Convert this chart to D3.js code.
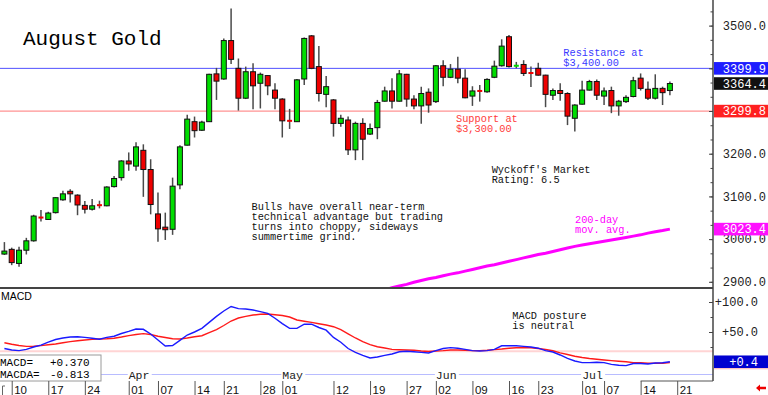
<!DOCTYPE html>
<html>
<head>
<meta charset="utf-8">
<script src="https://cdn.jsdelivr.net/npm/d3@7"></script>
<style>
  body { margin: 0; background: #fff; }
  svg { display: block; font-family: "Liberation Mono", monospace; }
</style>
</head>
<body>
<div class="canvas"></div>
<script>
// trading days Mar 7 .. Jul 21 (last one only carries a tick label)
const holidays = ['2025-04-18', '2025-05-26', '2025-06-19', '2025-07-04'];
const parse = d3.timeParse('%Y-%m-%d');
const fmt = d3.timeFormat('%Y-%m-%d');
const days = d3.timeDay.range(parse('2025-03-07'), parse('2025-07-22'))
  .filter(d => d.getDay() % 6 !== 0 && !holidays.includes(fmt(d)))
  .map(fmt);

// daily OHLC, Mar 7 .. Jul 18
const opens = [2965, 2976, 2943, 2974, 2996, 3052, 3046, 3062, 3092, 3112, 3103, 3079, 3070, 3080, 3078, 3123, 3144,
  3183, 3171, 3208, 3163, 3059, 3028, 3023, 3127, 3220, 3275, 3255, 3275, 3387, 3375, 3465, 3400, 3330, 3392, 3365, 3383, 3349,
  3328, 3278, 3275, 3375, 3476, 3404, 3339, 3326, 3271, 3279, 3209, 3271, 3246, 3261, 3323, 3347, 3323, 3386, 3328, 3312, 3344,
  3322, 3406, 3379, 3398, 3377, 3335, 3348, 3345, 3379, 3406, 3474, 3405, 3409, 3390, 3400, 3384, 3337, 3348, 3341, 3283,
  3316, 3349, 3369, 3335, 3348, 3312, 3322, 3334, 3377, 3351, 3330, 3353, 3348];
const highs = [2993, 2980, 2982, 3003, 3057, 3068, 3064, 3098, 3113, 3117, 3105, 3089, 3094, 3090, 3124, 3148, 3185,
  3203, 3227, 3222, 3187, 3109, 3062, 3144, 3220, 3291, 3287, 3277, 3387, 3401, 3470, 3540, 3423, 3404, 3412, 3390, 3384, 3365,
  3330, 3305, 3375, 3472, 3478, 3452, 3382, 3328, 3291, 3287, 3275, 3283, 3271, 3326, 3357, 3377, 3396, 3387, 3337, 3357, 3353,
  3408, 3419, 3410, 3427, 3398, 3358, 3361, 3377, 3418, 3468, 3478, 3415, 3419, 3404, 3413, 3385, 3353, 3365, 3344, 3316,
  3371, 3373, 3374, 3355, 3357, 3326, 3337, 3380, 3388, 3369, 3386, 3357, 3369];
const lows = [2963, 2939, 2935, 2964, 2994, 3041, 3045, 3060, 3090, 3086, 3056, 3060, 3067, 3072, 3077, 3121, 3137,
  3160, 3160, 3099, 3058, 2994, 2998, 3010, 3117, 3219, 3238, 3253, 3274, 3326, 3373, 3410, 3301, 3328, 3304, 3306, 3337, 3304,
  3238, 3258, 3274, 3361, 3398, 3322, 3309, 3240, 3263, 3197, 3185, 3185, 3244, 3234, 3322, 3306, 3322, 3310, 3304, 3270, 3296,
  3319, 3358, 3377, 3365, 3330, 3312, 3322, 3343, 3377, 3404, 3402, 3400, 3382, 3356, 3383, 3309, 3326, 3324, 3267, 3252,
  3315, 3348, 3326, 3314, 3295, 3289, 3319, 3332, 3348, 3326, 3327, 3314, 3337];
const closes = [2972, 2945, 2974, 2996, 3054, 3049, 3061, 3097, 3106, 3106, 3080, 3070, 3078, 3079, 3122, 3142, 3183,
  3176, 3216, 3163, 3081, 3024, 3022, 3124, 3216, 3281, 3254, 3274, 3386, 3370, 3465, 3421, 3330, 3392, 3359, 3386, 3359, 3330,
  3277, 3276, 3373, 3470, 3400, 3341, 3357, 3271, 3283, 3209, 3271, 3234, 3259, 3320, 3347, 3323, 3387, 3328, 3312, 3341, 3314,
  3406, 3379, 3398, 3377, 3331, 3347, 3346, 3374, 3405, 3452, 3404, 3407, 3388, 3388, 3384, 3339, 3348, 3341, 3288, 3314,
  3349, 3369, 3337, 3347, 3312, 3323, 3332, 3371, 3353, 3330, 3353, 3343, 3364.4];

// 200-day moving average, May 20 .. Jul 18
const maValues = [2877, 2881, 2886, 2890, 2894, 2899, 2903, 2907, 2910, 2914, 2918, 2921, 2925, 2929, 2933, 2937, 2940,
  2944, 2948, 2952, 2956, 2960, 2964, 2967, 2971, 2975, 2979, 2983, 2986, 2989, 2992, 2995, 2998, 3001, 3004, 3007, 3010,
  3014, 3017, 3020, 3023.4];

// MACD and its average, Mar 7 .. Jul 18
const macdLine = [22.5, 20, 19, 21, 25, 28, 33, 37.5, 40, 41.7, 42, 41, 39.5, 38, 41, 43, 47.5, 51, 55, 54.5,
  46.7, 36.7, 26.7, 27.5, 36, 45, 50, 56, 66, 76, 85, 92.5, 89, 88.3, 86.7, 84, 81, 73, 64, 56,
  56, 63, 63, 57.5, 53, 41, 33, 22.5, 16, 11, 6.7, 8.3, 11, 13.3, 17, 18, 17, 16, 15, 19,
  22.5, 24, 23, 21, 19, 18.3, 19, 21, 27, 27, 27, 26, 25, 23, 19, 16.7, 11.7, 6, 1.7, -1,
  -1, -0.5, -1, -4, -5.5, -6, -2.5, -2.5, -3.3, -1.7, -1.3, 0.37];
const macdAvg = [32, 29.5, 27.5, 26, 26.3, 27.3, 28.7, 30, 32, 34, 35.5, 36.7, 37.7, 38.3, 38.8, 39.7, 41.7, 44, 45.8, 47.3,
  45.8, 43, 40.8, 38.8, 38.3, 40, 42, 43.8, 49, 54, 60.8, 68.3, 73.3, 76, 78.3, 79.5, 80, 78.8, 77.5, 75,
  70, 68, 66, 63.8, 61.7, 58.8, 54, 47, 40, 34, 29, 25.5, 23.3, 21, 20.5, 20, 19.5, 18.3, 17.5, 18.3,
  19, 20, 20, 19.5, 19, 19, 19.7, 20.7, 21.7, 23, 23.8, 23.8, 23.8, 22.5, 20.8, 18.7, 15.3, 12.5, 9.5, 7.5,
  5.8, 4.5, 3.3, 2.3, 1.3, 0.3, -1, -1.3, -2, -2.2, -2, -0.81];
const macdGuide = 18;

// levels and labels
const resistance = 3399.9, support = 3299.8;
const priceTicks = [2900, 3000, 3100, 3200, 3300, 3400, 3500];
const macdTicks = [50, 100];
const dayTicks = ['2025-03-10', '2025-03-17', '2025-03-24', '2025-04-01', '2025-04-07', '2025-04-14', '2025-04-21',
  '2025-04-28', '2025-05-01', '2025-05-12', '2025-05-19', '2025-05-27', '2025-06-02', '2025-06-09', '2025-06-16',
  '2025-06-23', '2025-07-01', '2025-07-07', '2025-07-14', '2025-07-21'];
const monthNames = ['Apr', 'May', 'Jun', 'Jul'];
const monthStarts = ['2025-04-01', '2025-05-01', '2025-06-02', '2025-07-01'];

const W = 768, H = 395, axisX = 713, mainBottom = 288, macdBottom = 381;

const svg = d3.select('.canvas')
  .append('svg')
    .attr('width', W)
    .attr('height', H);

const x = d3.scalePoint().domain(days).range([4.4, 677.2]);
const y = d3.scaleLinear().domain([2885.5, 3560]).range([mainBottom, 0]);
const yM = d3.scaleLinear().domain([0, 100]).range([362, 302]);

const defs = svg.append('defs');
defs.append('clipPath').attr('id', 'clipMain')
  .append('rect').attr('x', 0).attr('y', 0).attr('width', axisX).attr('height', mainBottom);
defs.append('clipPath').attr('id', 'clipMacd')
  .append('rect').attr('x', 0).attr('y', mainBottom).attr('width', axisX).attr('height', macdBottom - mainBottom);

// ---- main price panel ----
const main = svg.append('g').attr('clip-path', 'url(#clipMain)');

main.append('line')
  .attr('x1', 0).attr('x2', axisX)
  .attr('y1', y(resistance)).attr('y2', y(resistance))
  .attr('stroke', '#5050ff').attr('stroke-width', 1);
main.append('line')
  .attr('x1', 0).attr('x2', axisX)
  .attr('y1', y(support)).attr('y2', y(support))
  .attr('stroke', '#ff7878').attr('stroke-width', 1);

// 200-day average
const maDays = days.slice(days.length - 1 - maValues.length, days.length - 1);
main.append('path')
  .datum(maValues)
  .attr('fill', 'none')
  .attr('stroke', '#ff00ff')
  .attr('stroke-width', 3)
  .attr('d', d3.line().x((d, i) => x(maDays[i])).y(d => y(d)));

// candles
const candles = opens.map((o, i) => ({ day: days[i], o, h: highs[i], l: lows[i], c: closes[i] }));
const cg = main.selectAll('g.candle')
  .data(candles)
  .enter()
  .append('g')
    .attr('class', 'candle');

cg.append('line')
  .attr('x1', d => x(d.day)).attr('x2', d => x(d.day))
  .attr('y1', d => y(d.h)).attr('y2', d => y(d.l))
  .attr('stroke', '#4a4a4a')
  .attr('stroke-width', 1.5);

cg.append('rect')
  .attr('x', d => x(d.day) - 2.5)
  .attr('width', 5)
  .attr('y', d => {
    const top = y(Math.max(d.o, d.c)), h = y(Math.min(d.o, d.c)) - top;
    return h < 2 ? top - (2 - h) / 2 : top;
  })
  .attr('height', d => Math.max(2, y(Math.min(d.o, d.c)) - y(Math.max(d.o, d.c))))
  .attr('fill', d => d.c >= d.o ? '#00dd00' : '#ee0000')
  .attr('stroke', d => (y(Math.min(d.o, d.c)) - y(Math.max(d.o, d.c))) < 2 ? 'none' : '#111')
  .attr('stroke-width', 1);

// ---- MACD panel ----
const macd = svg.append('g').attr('clip-path', 'url(#clipMacd)');

macd.append('line')
  .attr('x1', 0).attr('x2', axisX)
  .attr('y1', yM(macdGuide)).attr('y2', yM(macdGuide))
  .attr('stroke', '#ffd4d4').attr('stroke-width', 2);

macd.append('line')
  .attr('x1', 100).attr('x2', axisX)
  .attr('y1', 374.5).attr('y2', 374.5)
  .attr('stroke', '#b8bcff').attr('stroke-width', 1);

const macdDays = days.slice(0, macdLine.length);
macd.append('path')
  .datum(macdAvg)
  .attr('fill', 'none')
  .attr('stroke', '#ff1a1a')
  .attr('stroke-width', 1.4)
  .attr('d', d3.line().x((d, i) => x(macdDays[i])).y(d => yM(d)));
macd.append('path')
  .datum(macdLine)
  .attr('fill', 'none')
  .attr('stroke', '#1a1aff')
  .attr('stroke-width', 1.4)
  .attr('d', d3.line().x((d, i) => x(macdDays[i])).y(d => yM(d)));

// month labels on the light blue strip
const months = svg.append('g');
monthNames.forEach((m, i) => {
  const mx = x(monthStarts[i]);
  months.append('rect')
    .attr('x', mx - 1).attr('y', 368).attr('width', 24).attr('height', 12)
    .attr('fill', '#fff');
  months.append('text')
    .attr('x', mx).attr('y', 379)
    .attr('font-size', 11.5)
    .attr('fill', '#222')
    .text(m);
});

// panel frames
svg.append('line')
  .attr('x1', 0).attr('x2', axisX)
  .attr('y1', mainBottom).attr('y2', mainBottom)
  .attr('stroke', '#444').attr('stroke-width', 2);
svg.append('line')
  .attr('x1', axisX).attr('x2', axisX)
  .attr('y1', 0).attr('y2', macdBottom)
  .attr('stroke', '#444').attr('stroke-width', 1.5);
svg.append('line')
  .attr('x1', x('2025-07-14')).attr('x2', axisX)
  .attr('y1', macdBottom).attr('y2', macdBottom)
  .attr('stroke', '#555').attr('stroke-width', 1);

// MACD label and readout box
svg.append('text')
  .attr('x', 1).attr('y', 300)
  .attr('font-family', '"Liberation Sans", Arial, sans-serif')
  .attr('font-size', 10.5)
  .text('MACD');

const box = svg.append('g');
box.append('rect')
  .attr('x', -1).attr('y', 355).attr('width', 102).attr('height', 26)
  .attr('fill', '#fff').attr('stroke', '#9a9a9a');
[['MACD=', '+0.370', 366], ['MACDA=', '-0.813', 378]].forEach(r => {
  box.append('text').attr('x', 0).attr('y', r[2]).attr('font-size', 11).text(r[0]);
  box.append('text').attr('x', 50).attr('y', r[2]).attr('font-size', 11).text(r[1]);
});

// ---- right axes ----
const priceAxis = svg.append('g')
  .attr('transform', `translate(${axisX},0)`)
  .call(d3.axisRight(y).tickValues(priceTicks).tickSize(-4).tickPadding(10).tickFormat(d3.format('.1f')));
const minorAxis = svg.append('g')
  .attr('transform', `translate(${axisX},0)`)
  .call(d3.axisRight(y).tickValues(d3.range(2900, 3560, 100 / 3)).tickSize(-2.5).tickFormat(''));
const macdAxis = svg.append('g')
  .attr('transform', `translate(${axisX},0)`)
  .call(d3.axisRight(yM).tickValues(macdTicks).tickSize(-4).tickPadding(10).tickFormat(d => '+' + d.toFixed(1)));
const macdMinor = svg.append('g')
  .attr('transform', `translate(${axisX},0)`)
  .call(d3.axisRight(yM).tickValues([25, 75, 125]).tickSize(-2.5).tickFormat(''));

[priceAxis, minorAxis, macdAxis, macdMinor].forEach(g => {
  g.select('.domain').remove();
  g.selectAll('line').attr('stroke', '#444');
  g.selectAll('text')
    .attr('font-family', '"Liberation Mono", monospace')
    .attr('font-size', 12)
    .attr('fill', '#222');
});
macdAxis.selectAll('text').attr('text-anchor', 'end').attr('x', 45);
priceAxis.selectAll('text').attr('text-anchor', 'end').attr('x', 53);

// value boxes on the right axis
const tags = [
  { v: y(resistance), t: resistance.toFixed(1), c: '#1e1eff' },
  { v: y(closes[closes.length - 1]), t: closes[closes.length - 1].toFixed(1), c: '#111' },
  { v: y(support), t: support.toFixed(1), c: '#ff2020' },
  { v: y(maValues[maValues.length - 1]), t: maValues[maValues.length - 1].toFixed(1), c: '#ff10ff' },
  { v: yM(macdLine[macdLine.length - 1]), t: '+' + macdLine[macdLine.length - 1].toFixed(1), c: '#0000d0', end: 758 }
];
tags.forEach(d => {
  svg.append('rect')
    .attr('x', axisX + 1).attr('y', d.v - 6.3).attr('width', W - axisX - 1).attr('height', 12.6)
    .attr('fill', d.c);
  svg.append('text')
    .attr('x', d.end || 766).attr('y', d.v + 4.3)
    .attr('text-anchor', 'end')
    .attr('font-size', 12)
    .attr('fill', '#fff')
    .text(d.t);
});
svg.append('line')
  .attr('x1', axisX + 1).attr('x2', W)
  .attr('y1', yM(macdLine[macdLine.length - 1]) + 7).attr('y2', yM(macdLine[macdLine.length - 1]) + 7)
  .attr('stroke', '#ffb0b0').attr('stroke-width', 1);

// ---- bottom date strip ----
const dateAxis = svg.append('g')
  .attr('transform', `translate(0,${macdBottom})`)
  .call(d3.axisBottom(x).tickValues(dayTicks).tickSize(14).tickFormat(d => d.slice(8)));
dateAxis.select('.domain').remove();
dateAxis.selectAll('line').attr('stroke', '#555');
dateAxis.selectAll('text')
  .attr('text-anchor', 'start')
  .attr('x', 2).attr('y', 5).attr('dy', '0.71em')
  .attr('font-family', '"Liberation Sans", Arial, sans-serif')
  .attr('font-size', 11.5)
  .attr('fill', '#111');
svg.append('path')
  .attr('d', 'M5,386 L2.5,386 L2.5,395')
  .attr('fill', 'none').attr('stroke', '#666');

// red arrow at the bottom right
svg.append('path')
  .attr('d', 'M756,388 L760,384.5 L760,386.8 L766,386.8 L766,389.2 L760,389.2 L760,391.5 Z')
  .attr('fill', '#ee0000');

// ---- annotations ----
const note = (lines, x0, y0, color, size, lh) => {
  const t = svg.append('text').attr('font-size', size).attr('fill', color);
  lines.forEach((s, i) => t.append('tspan').attr('x', x0).attr('y', y0 + i * lh).text(s));
};
note(['August Gold'], 23, 45, '#000', 21, 0);
note(['Bulls have overall near-term', 'technical advantage but trading',
  'turns into choppy, sideways', 'summertime grind.'], 251.5, 209.5, '#111', 10.3, 10.2);
note(["Wyckoff's Market", 'Rating: 6.5'], 491.7, 172.7, '#111', 10.3, 10);
note(['200-day', 'mov. avg.'], 575, 223.3, '#ff00ff', 10.3, 9.5);
note(['Resistance at', '$3,400.00'], 563.3, 56, '#3a3aff', 10.3, 10);
note(['Support at', '$3,300.00'], 456, 121.7, '#ff3a3a', 10.3, 10);
note(['MACD posture', 'is neutral'], 512.3, 319, '#111', 10.3, 10);
</script>
</body>
</html>
